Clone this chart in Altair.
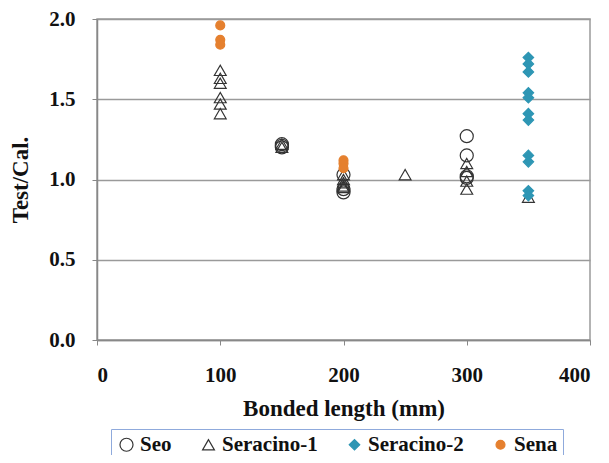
import altair as alt
import pandas as pd

series_names = ["Seo", "Seracino-1", "Seracino-2", "Sena"]

seo_x = [150, 150, 150, 200, 200, 200, 300, 300, 300, 300]
seo_y = [1.22, 1.20, 1.21, 1.03, 0.92, 0.94, 1.27, 1.15, 1.02, 1.01]

ser1_x = [100, 100, 100, 100, 100, 100, 150, 150, 200, 200, 200, 200, 200, 250,
          300, 300, 300, 300, 350]
ser1_y = [1.68, 1.63, 1.60, 1.51, 1.47, 1.41, 1.22, 1.20, 1.03, 1.00, 0.98, 0.96, 0.95, 1.03,
          1.10, 1.05, 0.99, 0.94, 0.89]

ser2_x = [350, 350, 350, 350, 350, 350, 350, 350, 350, 350, 350]
ser2_y = [1.76, 1.72, 1.67, 1.54, 1.51, 1.41, 1.37, 1.15, 1.11, 0.93, 0.90]

sena_x = [100, 100, 100, 200, 200, 200]
sena_y = [1.96, 1.87, 1.84, 1.12, 1.10, 1.07]

rows = []
for name, xs, ys in [("Seo", seo_x, seo_y), ("Seracino-1", ser1_x, ser1_y),
                     ("Seracino-2", ser2_x, ser2_y), ("Sena", sena_x, sena_y)]:
    for a, b in zip(xs, ys):
        rows.append({"series": name, "x": a, "y": b})
df = pd.DataFrame(rows)

font = "Liberation Serif"

chart = alt.Chart(df).mark_point(strokeWidth=1.2, opacity=1).encode(
    x=alt.X("x:Q", scale=alt.Scale(domain=[0, 400], nice=False),
            axis=alt.Axis(values=[0, 100, 200, 300, 400], title="Bonded length (mm)",
                          grid=False, tickSize=5, labelPadding=19, titlePadding=12,
                          labelFontSize=21, titleFontSize=23)),
    y=alt.Y("y:Q", scale=alt.Scale(domain=[0, 2], nice=False),
            axis=alt.Axis(values=[0, 0.5, 1.0, 1.5, 2.0], format=".1f", title="Test/Cal.",
                          grid=True, tickSize=5, labelPadding=17, titlePadding=16,
                          labelFontSize=21, titleFontSize=23)),
    shape=alt.Shape("series:N", sort=series_names,
                    scale=alt.Scale(domain=series_names,
                                    range=["circle", "triangle-up", "diamond", "circle"]),
                    legend=alt.Legend(title=None)),
    stroke=alt.Stroke("series:N", sort=series_names,
                      scale=alt.Scale(domain=series_names,
                                      range=["#333333", "#333333", "#2e96b4", "#e5802f"]),
                      legend=alt.Legend(title=None)),
    fill=alt.Fill("series:N", sort=series_names,
                  scale=alt.Scale(domain=series_names,
                                  range=["transparent", "transparent", "#2e96b4", "#e5802f"]),
                  legend=alt.Legend(title=None)),
    size=alt.Size("series:N", sort=series_names,
                  scale=alt.Scale(domain=series_names, range=[170, 80, 60, 80]),
                  legend=alt.Legend(title=None)),
).properties(
    width=493, height=321,
    autosize=alt.AutoSizeParams(type="none"),
    padding={"left": 89, "top": 11, "right": 11, "bottom": 115},
).configure_view(
    stroke="#9a9a9a", strokeWidth=1.5
).configure_axis(
    labelFont=font, titleFont=font, labelFontWeight="bold", titleFontWeight="bold",
    labelColor="#111", titleColor="#111", domainColor="#888", tickColor="#888",
    gridColor="#9a9a9a", gridWidth=1.5, domainWidth=1.5,
).configure_legend(
    orient="none", legendX=14, legendY=410, direction="horizontal",
    labelFont=font, labelFontWeight="bold", labelFontSize=21, labelColor="#111",
    strokeColor="#8faadc", padding=5, columnPadding=26, symbolStrokeWidth=1.2,
    labelOffset=3,
)

chart.save("out.html", embed_options={"renderer": "svg", "actions": False})
